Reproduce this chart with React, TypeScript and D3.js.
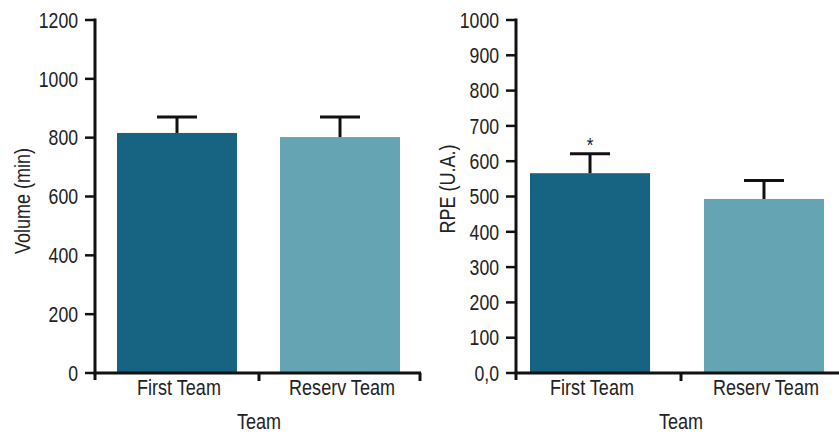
import { useMemo } from "react";
import * as d3 from "d3";

const FONT = "'Liberation Sans', Arial, sans-serif";
const NARROW = 0.82; // Arial Narrow is about 82% the width of Arial
const DARK = "#176482";
const LIGHT = "#65a4b3";
const INK = "#222";

// categories and values
const TEAMS = ["First Team", "Reserv Team"];
const VOLUME_MEAN = [816, 802];
const VOLUME_SD = [54, 68];
const VOLUME_TICKS = [0, 200, 400, 600, 800, 1000, 1200];
const RPE_MEAN = [566, 493];
const RPE_SD = [55, 52];
const RPE_TICKS = [0, 100, 200, 300, 400, 500, 600, 700, 800, 900, 1000];
const RPE_TICK_LABELS = ["0,0", "100", "200", "300", "400", "500", "600", "700", "800", "900", "1000"];
const RPE_MARKS = ["*", ""];

const TOP = 20;
const BOTTOM = 373;

function NText({
  x,
  y,
  anchor = "middle",
  size = 21,
  rotate = 0,
  dy,
  children,
}: {
  x: number;
  y: number;
  anchor?: string;
  size?: number;
  rotate?: number;
  dy?: string;
  children: React.ReactNode;
}) {
  return (
    <g transform={`translate(${x},${y}) rotate(${rotate}) scale(${NARROW},1)`}>
      <text
        textAnchor={anchor}
        dy={dy}
        fontFamily={FONT}
        fontSize={size}
        fill={INK}
      >
        {children}
      </text>
    </g>
  );
}

interface PanelProps {
  axisX: number;
  axisEnd: number;
  barStart: number;
  barEnd: number;
  padding: number;
  yMax: number;
  ticks: number[];
  tickLabels?: string[];
  means: number[];
  sds: number[];
  marks?: string[];
  yTitle: string;
  yTitleX: number;
  yTitleY: number;
  midTick: number;
  endTick: boolean;
}

function Panel(p: PanelProps) {
  const y = useMemo(
    () => d3.scaleLinear().domain([0, p.yMax]).range([BOTTOM, TOP]),
    [p.yMax]
  );
  const x = useMemo(
    () =>
      d3
        .scaleBand<string>()
        .domain(TEAMS)
        .range([p.barStart, p.barEnd])
        .paddingInner(p.padding)
        .paddingOuter(0),
    [p.barStart, p.barEnd, p.padding]
  );
  const bw = x.bandwidth();
  const colors = [DARK, LIGHT];

  return (
    <g>
      {/* bars */}
      {TEAMS.map((t, i) => (
        <rect
          key={t}
          x={x(t)}
          y={y(p.means[i])}
          width={bw}
          height={BOTTOM - y(p.means[i])}
          fill={colors[i]}
        />
      ))}
      {/* error bars (upper only) */}
      {TEAMS.map((t, i) => {
        const cx = x(t)! + bw / 2;
        const top = y(p.means[i] + p.sds[i]);
        return (
          <g key={t} stroke="#111" strokeWidth={3}>
            <line x1={cx} x2={cx} y1={y(p.means[i])} y2={top} />
            <line x1={cx - 20} x2={cx + 20} y1={top} y2={top} />
          </g>
        );
      })}
      {p.marks &&
        TEAMS.map((t, i) =>
          p.marks![i] ? (
            <NText key={t} x={x(t)! + bw / 2} y={y(p.means[i] + p.sds[i]) - 2} size={21}>
              {p.marks![i]}
            </NText>
          ) : null
        )}
      {/* y axis */}
      <line x1={p.axisX} x2={p.axisX} y1={TOP - 1.5} y2={BOTTOM + 7} stroke="#111" strokeWidth={3} />
      {p.ticks.map((v, i) => (
        <g key={v}>
          <line x1={p.axisX - 10} x2={p.axisX} y1={y(v)} y2={y(v)} stroke="#111" strokeWidth={2.5} />
          <NText x={p.axisX - 17} y={y(v)} dy="0.36em" anchor="end" size={21.5}>
            {p.tickLabels ? p.tickLabels[i] : String(v)}
          </NText>
        </g>
      ))}
      {/* x axis */}
      <line x1={p.axisX - 1.5} x2={p.axisEnd} y1={BOTTOM} y2={BOTTOM} stroke="#111" strokeWidth={3} />
      <line x1={p.midTick} x2={p.midTick} y1={BOTTOM} y2={BOTTOM + 8} stroke="#111" strokeWidth={3} />
      {p.endTick && (
        <line x1={p.axisEnd - 1} x2={p.axisEnd - 1} y1={BOTTOM} y2={BOTTOM + 8} stroke="#111" strokeWidth={3} />
      )}
      {TEAMS.map((t) => (
        <NText key={t} x={x(t)! + bw / 2 + 2} y={395} size={22}>
          {t}
        </NText>
      ))}
      <NText x={p.midTick} y={429} size={22}>
        Team
      </NText>
      <NText x={p.yTitleX} y={p.yTitleY} rotate={-90} size={22}>
        {p.yTitle}
      </NText>
    </g>
  );
}

export default function App() {
  return (
    <svg
      width={839}
      height={432}
      style={{ position: "absolute", left: 0, top: 0, background: "#fff" }}
    >
      <Panel
        axisX={95}
        axisEnd={421}
        barStart={117}
        barEnd={400}
        padding={0.264}
        yMax={1200}
        ticks={VOLUME_TICKS}
        means={VOLUME_MEAN}
        sds={VOLUME_SD}
        yTitle="Volume (min)"
        yTitleX={30}
        yTitleY={201}
        midTick={259}
        endTick={true}
      />
      <Panel
        axisX={516}
        axisEnd={839}
        barStart={530}
        barEnd={824}
        padding={0.31}
        yMax={1000}
        ticks={RPE_TICKS}
        tickLabels={RPE_TICK_LABELS}
        means={RPE_MEAN}
        sds={RPE_SD}
        marks={RPE_MARKS}
        yTitle="RPE (U.A.)"
        yTitleX={455}
        yTitleY={189}
        midTick={681}
        endTick={false}
      />
    </svg>
  );
}
